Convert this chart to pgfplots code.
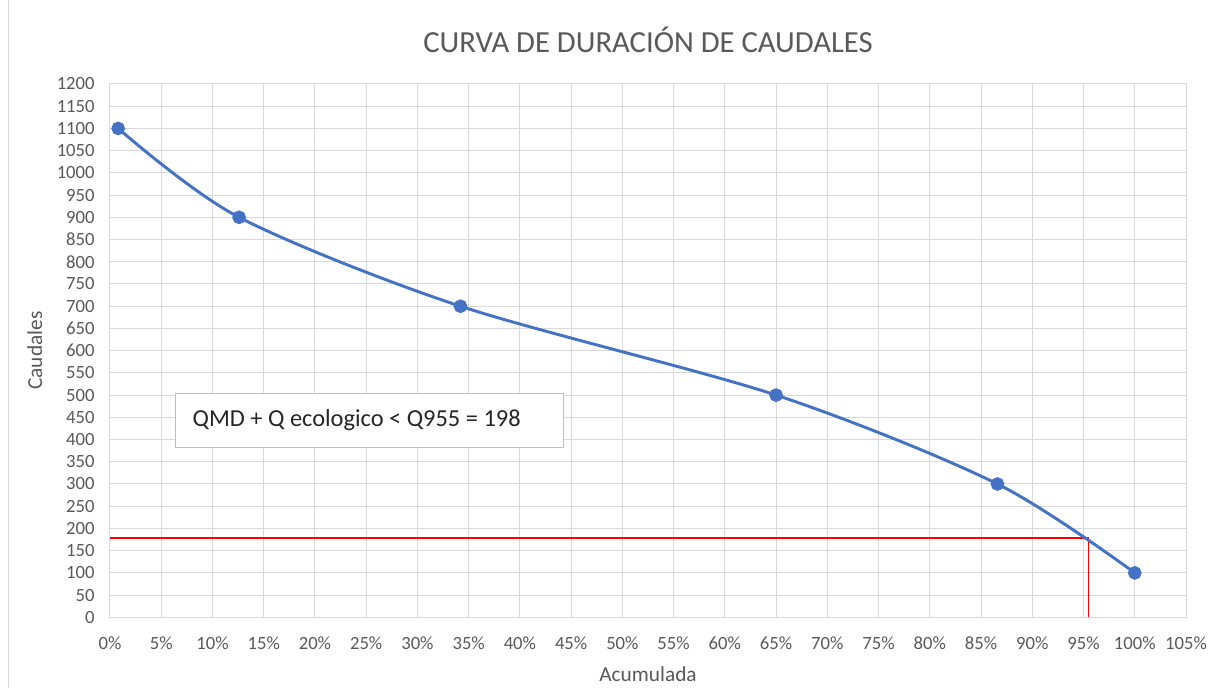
\documentclass[border=0pt]{standalone}
\usepackage{pgfplots}
\pgfplotsset{compat=1.18}
\usepackage{fontspec}
\setmainfont{Carlito}
\definecolor{txt}{HTML}{595959}
\definecolor{gridc}{HTML}{D9D9D9}
\definecolor{blu}{HTML}{4472C4}
\definecolor{redl}{HTML}{FF0000}
\begin{document}
\begin{tikzpicture}
\begin{axis}[
  at={(0,0)}, anchor=south west,
  scale only axis,
  width=807pt, height=400pt,
  xmin=0, xmax=105, ymin=0, ymax=1200,
  xtick={0,5,...,105},
  ytick={0,50,...,1200},
  xticklabel={\pgfmathprintnumber{\tick}\%},
  /pgf/number format/assume math mode=true,
  /pgf/number format/set thousands separator={},
  tick label style={font=\fontsize{14pt}{16pt}\selectfont, text=txt},
  xticklabel style={yshift=-11pt},
  yticklabel style={xshift=-8pt},
  major tick length=0pt,
  grid=major,
  major grid style={draw=gridc, line width=0.75pt},
  axis line style={draw=gridc, line width=0.75pt},
  xlabel={Acumulada},
  ylabel={Caudales},
  label style={font=\fontsize{16pt}{19pt}\selectfont, text=txt},
  xlabel style={yshift=-6pt},
  ylabel style={yshift=4pt},
  title={CURVA DE DURACIÓN DE CAUDALES},
  title style={font=\fontsize{23pt}{27pt}\selectfont, text=txt, yshift=14pt},
  clip=false,
]
\addplot[draw=redl, line width=1.2pt] coordinates {(0,179) (95.5,179)};
\addplot[draw=redl, line width=1.2pt] coordinates {(95.5,179) (95.5,0)};
\addplot[blu, line width=2.2pt, smooth, tension=0.5, mark=*, mark size=4pt,
  mark options={fill=blu, draw=blu}] coordinates {
  (0.8,1100) (12.6,900) (34.2,700) (65,500) (86.6,300) (100,100)};
\node[draw=black!25, line width=0.75pt, fill=white, anchor=north west,
  minimum width=291pt, minimum height=40pt, inner sep=0pt]
  (box) at (axis cs:6.3,504) {};
\node[anchor=west, font=\fontsize{18.3pt}{22pt}\selectfont, text=black!85]
  at ([xshift=10pt]box.west) {QMD + Q ecologico < Q955 = 198};
\end{axis}
\draw[gridc, line width=0.6pt] (-76pt,-53pt) -- (-76pt,463pt);
\pgfresetboundingbox
\path (-82.5pt,-53pt) rectangle (826.5pt,463pt);
\end{tikzpicture}
\end{document}
